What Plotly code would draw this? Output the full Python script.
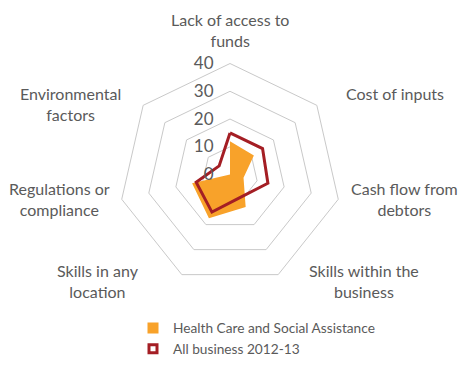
import plotly.graph_objects as go

categories = [
    "Lack of access to funds",
    "Cost of inputs",
    "Cash flow from debtors",
    "Skills within the business",
    "Skills in any location",
    "Regulations or compliance",
    "Environmental factors",
]
category_labels = [
    "Lack of access to<br>funds",
    "Cost of inputs",
    "Cash flow from<br>debtors",
    "Skills within the<br>business",
    "Skills in any<br>location",
    "Regulations or<br>compliance",
    "Environmental<br>factors",
]
health_care = [12, 11, 5, 13, 17.5, 14, 0]
all_business = [15, 15, 14, 9, 15, 12.5, 5]
radial_ticks = [0, 10, 20, 30, 40]

series_names = ["Health Care and Social Assistance", "All business 2012-13"]

W, H = 463, 365
ORANGE = "#F8A22A"
RED = "#A41E24"
GRID = "#C9C9C9"
TEXT = "#5A5A5A"
FONT = "Lato, Open Sans, sans-serif"

# category label centres around the web (pixels from the top-left corner)
LABEL_POS = [(230, 30), (395, 95), (404, 202), (364, 285),
             (98, 285), (59, 202), (70, 105)]
# web bounding square in pixels: left, top, size
WEB_BOX = (117.4, 64.4, 225.2)
LEGEND_LEFT, LEGEND_TOP = 133, 317


def fx(px):
    return px / W


def fy(py):
    return 1 - py / H


fig = go.Figure()

# filled industry polygon
fig.add_trace(go.Scatterpolar(
    r=health_care + health_care[:1],
    theta=categories + categories[:1],
    mode="lines",
    fill="toself",
    fillcolor=ORANGE,
    line=dict(width=0, color=ORANGE),
    showlegend=False,
    hoverinfo="skip",
))

# outline for all businesses
fig.add_trace(go.Scatterpolar(
    r=all_business + all_business[:1],
    theta=categories + categories[:1],
    mode="lines",
    line=dict(width=3, color=RED),
    showlegend=False,
    hoverinfo="skip",
))

# legend entries with square symbols
fig.add_trace(go.Scatterpolar(
    r=[None], theta=[categories[0]], mode="markers", name=series_names[0],
    marker=dict(symbol="square", size=11, color=ORANGE),
))
fig.add_trace(go.Scatterpolar(
    r=[None], theta=[categories[0]], mode="markers", name=series_names[1],
    marker=dict(symbol="square", size=8, color="white", line=dict(color=RED, width=3)),
))

annotations = [
    dict(text=lbl, x=fx(px), y=fy(py), xref="paper", yref="paper",
         xanchor="center", yanchor="middle", align="center", showarrow=False,
         font=dict(size=16, color=TEXT, family=FONT))
    for lbl, (px, py) in zip(category_labels, LABEL_POS)
]

bx, by, bs = WEB_BOX

fig.update_layout(
    width=W, height=H,
    margin=dict(l=0, r=0, t=0, b=0),
    paper_bgcolor="white",
    plot_bgcolor="white",
    font=dict(family=FONT, color=TEXT),
    annotations=annotations,
    polar=dict(
        domain=dict(x=[fx(bx), fx(bx + bs)], y=[fy(by + bs), fy(by)]),
        bgcolor="white",
        gridshape="linear",
        angularaxis=dict(
            type="category",
            categoryarray=categories,
            rotation=90,
            direction="clockwise",
            showgrid=False,
            showline=True,
            linecolor=GRID,
            linewidth=1,
            ticks="",
            showticklabels=False,
        ),
        radialaxis=dict(
            range=[0, 40],
            tickmode="array",
            tickvals=radial_ticks,
            angle=90,
            tickangle=90,
            side="counterclockwise",
            showline=False,
            showgrid=True,
            gridcolor=GRID,
            gridwidth=1,
            ticks="outside",
            ticklen=10,
            tickcolor="rgba(0,0,0,0)",
            tickfont=dict(size=17, color=TEXT, family=FONT),
        ),
    ),
    legend=dict(
        x=fx(LEGEND_LEFT), y=fy(LEGEND_TOP), xanchor="left", yanchor="top",
        font=dict(size=13.7, color=TEXT, family=FONT),
        bgcolor="rgba(0,0,0,0)",
        tracegroupgap=0,
    ),
)

fig.write_html("out.html")
